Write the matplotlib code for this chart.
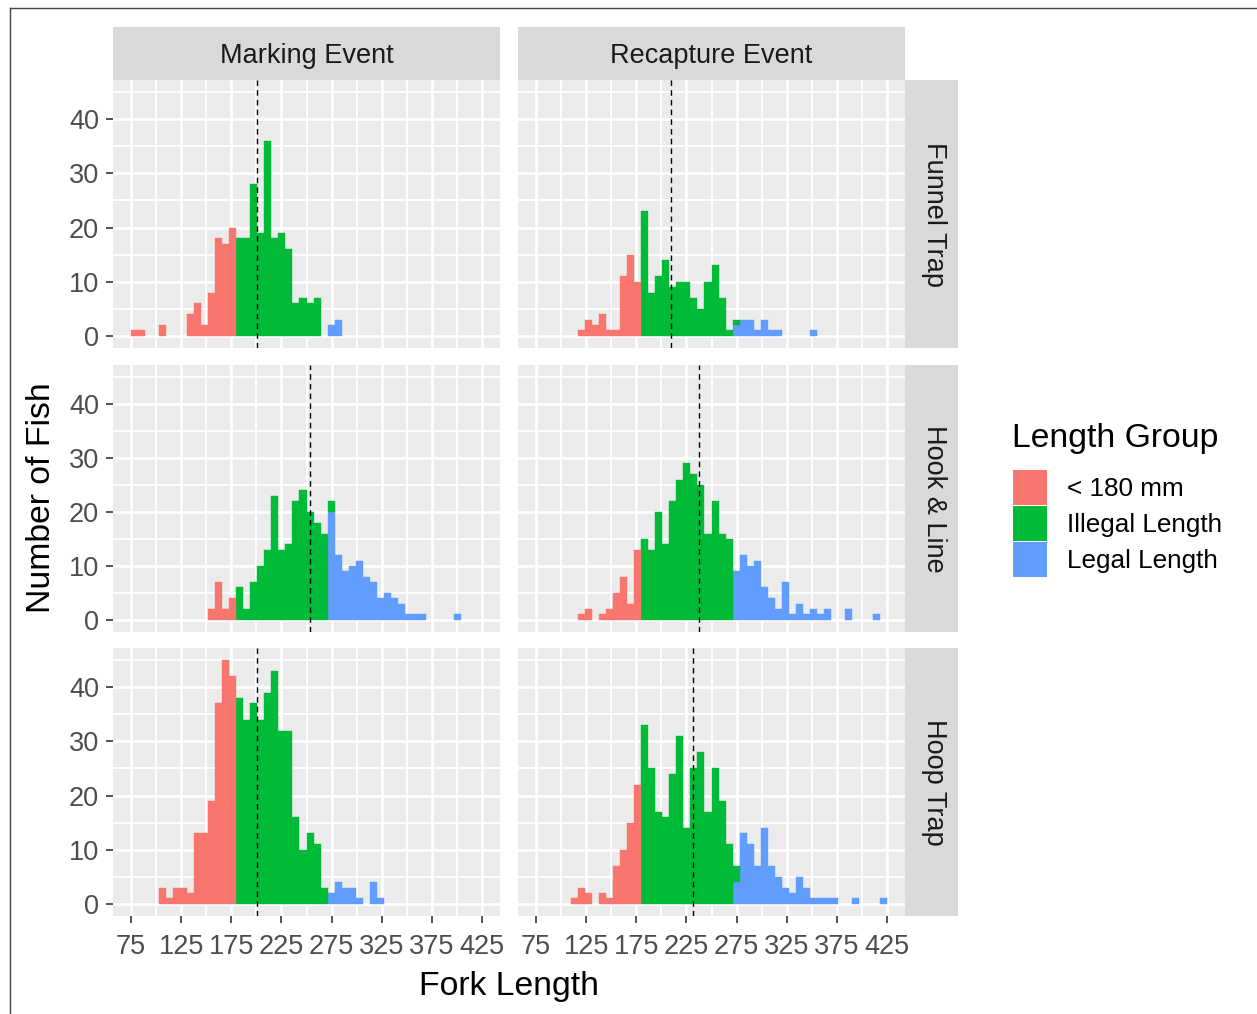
import numpy as np
import matplotlib.pyplot as plt
from matplotlib.patches import Rectangle
from matplotlib.lines import Line2D

plt.rcParams['font.family'] = ['Liberation Sans', 'DejaVu Sans']

# bins (fork length, mm)
bin_start = 74.5
bin_width = 7.02
n_bins = 50

events = ['Marking Event', 'Recapture Event']
gears = ['Funnel Trap', 'Hook & Line', 'Hoop Trap']
groups = ['< 180 mm', 'Illegal Length', 'Legal Length']
colors = ['#F8766D', '#00BA38', '#619CFF']

# counts per bin: (first bin index, counts)
ft_mark_small = (0, [1, 1, 0, 0, 2, 0, 0, 0, 4, 6, 2, 8, 18, 17, 20])
ft_mark_illegal = (15, [18, 18, 28, 19, 36, 18, 19, 16, 6, 7, 6, 7])
ft_mark_legal = (28, [2, 3])

ft_recap_small = (6, [1, 3, 2, 4, 1, 1, 11, 15, 10])
ft_recap_illegal = (15, [23, 8, 11, 14, 9, 10, 10, 7, 5, 10, 13, 7, 1, 1])
ft_recap_legal = (28, [2, 3, 3, 1, 3, 1, 1, 0, 0, 0, 0, 1])

hl_mark_small = (11, [2, 7, 2, 4])
hl_mark_illegal = (15, [6, 2, 7, 10, 13, 23, 13, 14, 22, 24, 20, 18, 16, 2])
hl_mark_legal = (28, [20, 12, 9, 10, 11, 8, 7, 4, 5, 4, 3, 1, 1, 1, 0, 0, 0, 0, 1])

hl_recap_small = (6, [1, 2, 0, 1, 2, 5, 8, 3, 13])
hl_recap_illegal = (15, [15, 13, 20, 14, 22, 26, 29, 27, 25, 16, 22, 16, 15])
hl_recap_legal = (28, [9, 12, 10, 11, 6, 4, 2, 7, 1, 3, 1, 2, 1, 2, 0, 0, 2, 0, 0, 0, 1])

ht_mark_small = (4, [3, 1, 3, 3, 2, 13, 13, 19, 37, 45, 42])
ht_mark_illegal = (15, [38, 34, 37, 34, 39, 43, 32, 32, 16, 10, 13, 11, 3])
ht_mark_legal = (28, [2, 4, 3, 3, 1, 0, 4, 1])

ht_recap_small = (5, [1, 3, 2, 0, 2, 1, 7, 10, 15, 22])
ht_recap_illegal = (15, [33, 25, 17, 16, 24, 31, 14, 25, 28, 17, 25, 19, 11, 3])
ht_recap_legal = (28, [4, 13, 11, 7, 14, 7, 5, 3, 2, 5, 3, 1, 1, 1, 1, 0, 0, 1, 0, 0, 0, 1])

# mean fork length (dashed lines), rows = gear, cols = event
means = [[200.6, 209.4],
         [253.3, 237.2],
         [200.6, 231.2]]

panel_data = [
    [(ft_mark_small, ft_mark_illegal, ft_mark_legal), (ft_recap_small, ft_recap_illegal, ft_recap_legal)],
    [(hl_mark_small, hl_mark_illegal, hl_mark_legal), (hl_recap_small, hl_recap_illegal, hl_recap_legal)],
    [(ht_mark_small, ht_mark_illegal, ht_mark_legal), (ht_recap_small, ht_recap_illegal, ht_recap_legal)],
]

x_ticks = [75, 125, 175, 225, 275, 325, 375, 425]
y_ticks = [0, 10, 20, 30, 40]


def full_counts(part):
    start, vals = part
    c = np.zeros(n_bins)
    c[start:start + len(vals)] = vals
    return c


W, H = 1257, 1014
fig = plt.figure(figsize=(W / 100, H / 100), dpi=100)


def box(x0, y0, x1, y1):
    return [x0 / W, 1 - y1 / H, (x1 - x0) / W, (y1 - y0) / H]


cols_px = [(113, 500), (518, 905)]
rows_px = [(80, 348), (365, 632), (648, 916)]
edges = bin_start + bin_width * np.arange(n_bins)

for r in range(3):
    for c in range(2):
        ax = fig.add_axes(box(cols_px[c][0], rows_px[r][0], cols_px[c][1], rows_px[r][1]))
        ax.set_facecolor('#EBEBEB')
        for s in ax.spines.values():
            s.set_visible(False)
        ax.set_xlim(57, 443)
        ax.set_ylim(-2.25, 47.25)
        ax.set_xticks(x_ticks)
        ax.set_xticks(np.arange(100, 425, 50), minor=True)
        ax.set_yticks(y_ticks)
        ax.set_yticks([5, 15, 25, 35, 45], minor=True)
        ax.grid(which='major', color='white', lw=1.9)
        ax.grid(which='minor', color='white', lw=1.3)
        ax.set_axisbelow(True)
        ax.tick_params(which='minor', length=0)
        ax.tick_params(which='major', length=5, width=1.2, color='#333333',
                       labelcolor='#4D4D4D', labelsize=19.5)
        ax.tick_params(axis='x', pad=8)
        ax.tick_params(axis='y', pad=5)
        if c != 0:
            ax.tick_params(axis='y', length=0, labelleft=False)
        if r != 2:
            ax.tick_params(axis='x', length=0, labelbottom=False)

        small, illegal, legal = [full_counts(p) for p in panel_data[r][c]]
        bottom = np.zeros(n_bins)
        for vals, col in [(legal, colors[2]), (illegal, colors[1]), (small, colors[0])]:
            m = vals > 0
            ax.bar(edges[m], vals[m], width=bin_width, align='edge', bottom=bottom[m],
                   color=col, edgecolor=col, linewidth=0.3)
            bottom = bottom + vals
        ax.axvline(means[r][c], color='black', lw=1.0, ls=(0, (4, 3)))

# strips
for c in range(2):
    sx = fig.add_axes(box(cols_px[c][0], 27, cols_px[c][1], 80))
    sx.set_facecolor('#D9D9D9')
    sx.set_xticks([]); sx.set_yticks([])
    for s in sx.spines.values():
        s.set_visible(False)
    sx.text(0.5, 0.45, events[c], ha='center', va='center', fontsize=19.5,
            color='#1A1A1A', transform=sx.transAxes)

for r in range(3):
    sx = fig.add_axes(box(905, rows_px[r][0], 958, rows_px[r][1]))
    sx.set_facecolor('#D9D9D9')
    sx.set_xticks([]); sx.set_yticks([])
    for s in sx.spines.values():
        s.set_visible(False)
    sx.text(0.55, 0.5, gears[r], ha='center', va='center', fontsize=19.5,
            color='#1A1A1A', rotation=-90, transform=sx.transAxes)

# axis titles
fig.text(509 / W, 1 - 986 / H, 'Fork Length', ha='center', va='center', fontsize=24.3)
fig.text(42 / W, 1 - 498 / H, 'Number of Fish', ha='center', va='center',
         fontsize=24.3, rotation=90)

# legend
fig.text(1012 / W, 1 - 438 / H, 'Length Group', ha='left', va='center', fontsize=24.3)
key_tops = [470, 506, 542]
for g, col, top in zip(groups, colors, key_tops):
    fig.patches.append(Rectangle((1013 / W, 1 - (top + 35) / H), 34 / W, 35 / H,
                                 transform=fig.transFigure, facecolor=col, edgecolor='none'))
    fig.text(1067 / W, 1 - (top + 19) / H, g, ha='left', va='center', fontsize=18.8)

# outer frame
fig.lines.append(Line2D([10 / W, 10 / W], [0, 1 - 8 / H], transform=fig.transFigure,
                        color='#444444', lw=1))
fig.lines.append(Line2D([10 / W, 1], [1 - 8 / H, 1 - 8 / H], transform=fig.transFigure,
                        color='#444444', lw=1))

fig.savefig('out.png', dpi=100)
